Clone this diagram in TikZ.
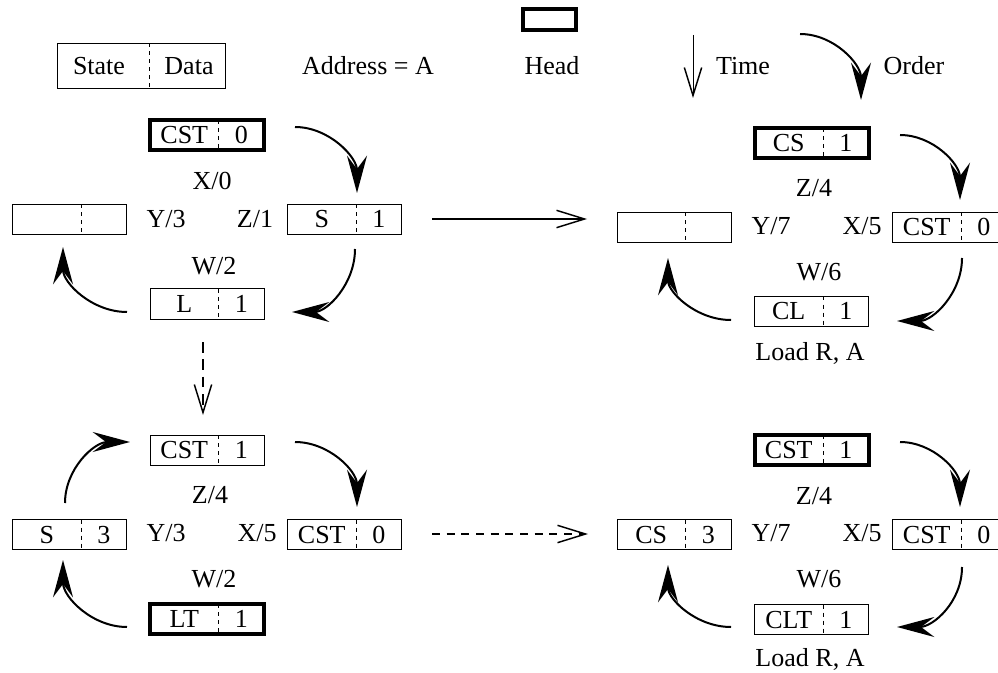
\documentclass[tikz,border=0pt]{standalone}
\usepackage{fontspec}
\setmainfont{Liberation Serif}
\usetikzlibrary{arrows.meta,calc}
\newcommand\regbox[6]{%
  \node[box,#6] (#1) at (#2,#3) {};
  \draw[divider] ($(#1.north west)+(68.5,0)$) -- ($(#1.south west)+(68.5,0)$);
  \node[txt] (#1-s) at ($(#1.west)+(34.25,0)$) {#4};
  \node[txt] (#1-d) at ($(#1.east)+(-22.75,0)$) {#5};
}
\begin{document}
\begin{tikzpicture}[x=0.75pt,y=-0.75pt,
  box/.style={draw, line width=0.75pt, minimum width=85.5pt, minimum height=22.5pt, inner sep=0pt, outer sep=0pt},
  headbox/.style={line width=3pt},
  divider/.style={line width=0.7pt, dash pattern=on 3pt off 3pt},
  txt/.style={font=\fontsize{19.5}{22}\selectfont, inner sep=0pt, text height=12.75pt, text depth=0pt},
  curvearr/.style={line width=1.5pt, -{Stealth[length=28pt,width=15pt,inset=10pt]}},
  openarr/.style={line width=0.9pt, -{Straight Barb[length=21pt,width=13pt,line width=1.1pt]}},
  dasharr/.style={openarr, dash pattern=on 6pt off 5pt},
]
\useasboundingbox (0,0) rectangle (998,673);

% ---------- legend ----------
\node[box, minimum width=126pt, minimum height=33.75pt] (key) at (141.5,66) {};
\draw[divider] ($(key.north west)+(91.5,0)$) -- ($(key.south west)+(91.5,0)$);
\node[txt] (keys) at (99,66) {State};
\node[txt] (keyd) at (189,66) {Data};
\node[txt] (addr) at (368,66) {Address = A};
\node[box, headbox, minimum width=39.75pt, minimum height=15.75pt] (headkey) at (549.5,19.5) {};
\node[txt] (headtxt) at (552,66) {Head};
\coordinate (timea) at (693,35);
\coordinate (timeb) at (693,98);
\draw[openarr, line width=0.75pt] (timea) -- (timeb);
\node[txt] (timetxt) at (743,66) {Time};
\coordinate (orda) at (800,34);
\coordinate (ordb) at (861,100);
\draw[curvearr] (orda) .. controls +(34,0) and +(0,-36) .. (ordb);
\node[txt] (ordtxt) at (914,66) {Order};

% ---------- boxes ----------
\regbox{tlh}{207}{135}{CST}{0}{headbox}
\regbox{tlw}{69.5}{219.5}{}{}{}
\regbox{tle}{344.5}{219.5}{S}{1}{}
\regbox{tls}{207}{304}{L}{1}{}

\regbox{bln}{207}{450}{CST}{1}{}
\regbox{blw}{69.5}{534.5}{S}{3}{}
\regbox{ble}{344.5}{534.5}{CST}{0}{}
\regbox{bls}{207}{619}{LT}{1}{headbox}

\regbox{trn}{811.5}{143}{CS}{1}{headbox}
\regbox{trw}{674}{227.5}{}{}{}
\regbox{tre}{949.5}{227.5}{CST}{0}{}
\regbox{trs}{811.5}{311.5}{CL}{1}{}

\regbox{brn}{811.5}{450}{CST}{1}{headbox}
\regbox{brw}{674}{534.5}{CS}{3}{}
\regbox{bre}{949.5}{534.5}{CST}{0}{}
\regbox{brs}{811.5}{619.5}{CLT}{1}{}

% ---------- labels ----------
\node[txt] (tlx) at (212,181) {X/0};
\node[txt] (tly) at (166,219) {Y/3};
\node[txt] (tlz) at (255,219) {Z/1};
\node[txt] (tlwl) at (214,266) {W/2};

\node[txt] (blz) at (210,495) {Z/4};
\node[txt] (bly) at (166,533) {Y/3};
\node[txt] (blx) at (257,533) {X/5};
\node[txt] (blwl) at (214,579) {W/2};

\node[txt] (trz) at (814,188) {Z/4};
\node[txt] (try) at (771,226) {Y/7};
\node[txt] (trx) at (862,226) {X/5};
\node[txt] (trwl) at (819,272) {W/6};
\node[txt] (trload) at (810,352) {Load R, A};

\node[txt] (brz) at (814,496) {Z/4};
\node[txt] (bry) at (771,533) {Y/7};
\node[txt] (brx) at (862,533) {X/5};
\node[txt] (brwl) at (819,579) {W/6};
\node[txt] (brload) at (810,658) {Load R, A};

% ---------- curved order arrows ----------
\coordinate (tl1a) at (295,127); \coordinate (tl1b) at (357,193);
\coordinate (tl2a) at (355,249); \coordinate (tl2b) at (292,312);
\coordinate (tl3a) at (127,312); \coordinate (tl3b) at (63,247);
\draw[curvearr] (tl1a) .. controls +(34,0) and +(0,-36) .. (tl1b);
\draw[curvearr] (tl2a) .. controls +(0,35) and +(35,0) .. (tl2b);
\draw[curvearr] (tl3a) .. controls +(-35,0) and +(0,36) .. (tl3b);

\coordinate (bl1a) at (65,503);  \coordinate (bl1b) at (130,442);
\coordinate (bl2a) at (295,442); \coordinate (bl2b) at (357,507);
\coordinate (bl3a) at (127,627); \coordinate (bl3b) at (63,560);
\draw[curvearr] (bl1a) .. controls +(0,-34) and +(-36,0) .. (bl1b);
\draw[curvearr] (bl2a) .. controls +(34,0) and +(0,-36) .. (bl2b);
\draw[curvearr] (bl3a) .. controls +(-35,0) and +(0,37) .. (bl3b);

\coordinate (tr1a) at (900,135); \coordinate (tr1b) at (960,200);
\coordinate (tr2a) at (962,258); \coordinate (tr2b) at (897,321);
\coordinate (tr3a) at (731,320); \coordinate (tr3b) at (668,258);
\draw[curvearr] (tr1a) .. controls +(33,0) and +(0,-36) .. (tr1b);
\draw[curvearr] (tr2a) .. controls +(0,35) and +(36,0) .. (tr2b);
\draw[curvearr] (tr3a) .. controls +(-35,0) and +(0,34) .. (tr3b);

\coordinate (br1a) at (900,442); \coordinate (br1b) at (960,507);
\coordinate (br2a) at (962,567); \coordinate (br2b) at (897,627);
\coordinate (br3a) at (731,627); \coordinate (br3b) at (668,565);
\draw[curvearr] (br1a) .. controls +(33,0) and +(0,-36) .. (br1b);
\draw[curvearr] (br2a) .. controls +(0,35) and +(36,0) .. (br2b);
\draw[curvearr] (br3a) .. controls +(-35,0) and +(0,34) .. (br3b);

% ---------- time / transition arrows ----------
\coordinate (ha) at (432,219); \coordinate (hb) at (587,219);
\draw[openarr] (ha) -- (hb);
\coordinate (va) at (203,342); \coordinate (vb) at (203,415);
\draw[dasharr, dash pattern=on 8pt off 5pt] (va) -- (vb);
\coordinate (da) at (432,534); \coordinate (db) at (588,534);
\draw[dasharr] (da) -- (db);
\end{tikzpicture}
\end{document}
